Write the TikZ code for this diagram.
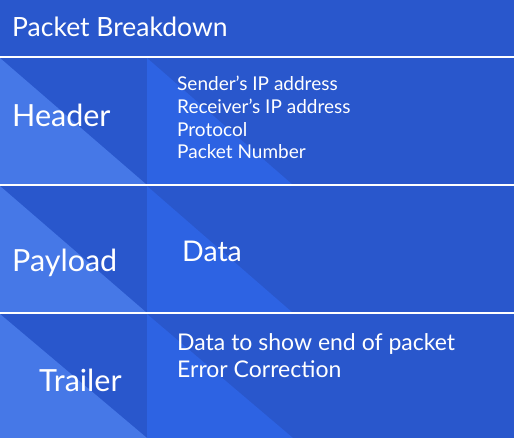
\documentclass[tikz,border=0pt]{standalone}
\usepackage{fontspec}
\setmainfont{Lato}
\definecolor{bandblue}{HTML}{2957CC}
\definecolor{lightblue}{HTML}{4678E7}
\definecolor{midblue}{HTML}{2D63E3}

\begin{document}
\begin{tikzpicture}[x=1pt,y=-1pt,
    label/.style={text=white, inner sep=0pt, anchor=base west, font=\fontsize{30.5}{36}\selectfont},
    info/.style={text=white, inner sep=0pt, anchor=base west, align=left, font=\fontsize{19}{22.7}\selectfont},
    rule/.style={white, line width=2pt}]
  \fill[bandblue] (0,0) rectangle (514,438);
  \useasboundingbox (0,0) rectangle (514,438);
  % shaded triangles in each row
  \foreach \top/\bot in {58/185, 186/313, 314/438} {
    \fill[lightblue] (0,\top) -- (147,\bot) -- (0,\bot) -- cycle;
    \fill[midblue] (147,\top) -- (293,\bot) -- (147,\bot) -- cycle;
  }
  \draw[rule] (0,57) -- (514,57);
  \draw[rule] (0,185) -- (514,185);
  \draw[rule] (0,313) -- (514,313);
  % texts
  \node[label, font=\fontsize{26.5}{30}\selectfont] (title) at (12,37) {Packet Breakdown};
  \node[label] (header) at (12,127) {Header};
  \node[label] (payload) at (12,272) {Payload};
  \node[label] (trailer) at (39,391) {Trailer};
  \node[info] (headinfo) at (177,159) {Sender’s IP address\\Receiver's IP address\\Protocol\\Packet Number};
  \node[label, font=\fontsize{28.5}{34}\selectfont] (data) at (182,262) {Data};
  \node[info, font=\fontsize{23}{26.7}\selectfont] (trailinfo) at (177,377) {Data to show end of packet\\Error Correction};
\end{tikzpicture}
\end{document}
